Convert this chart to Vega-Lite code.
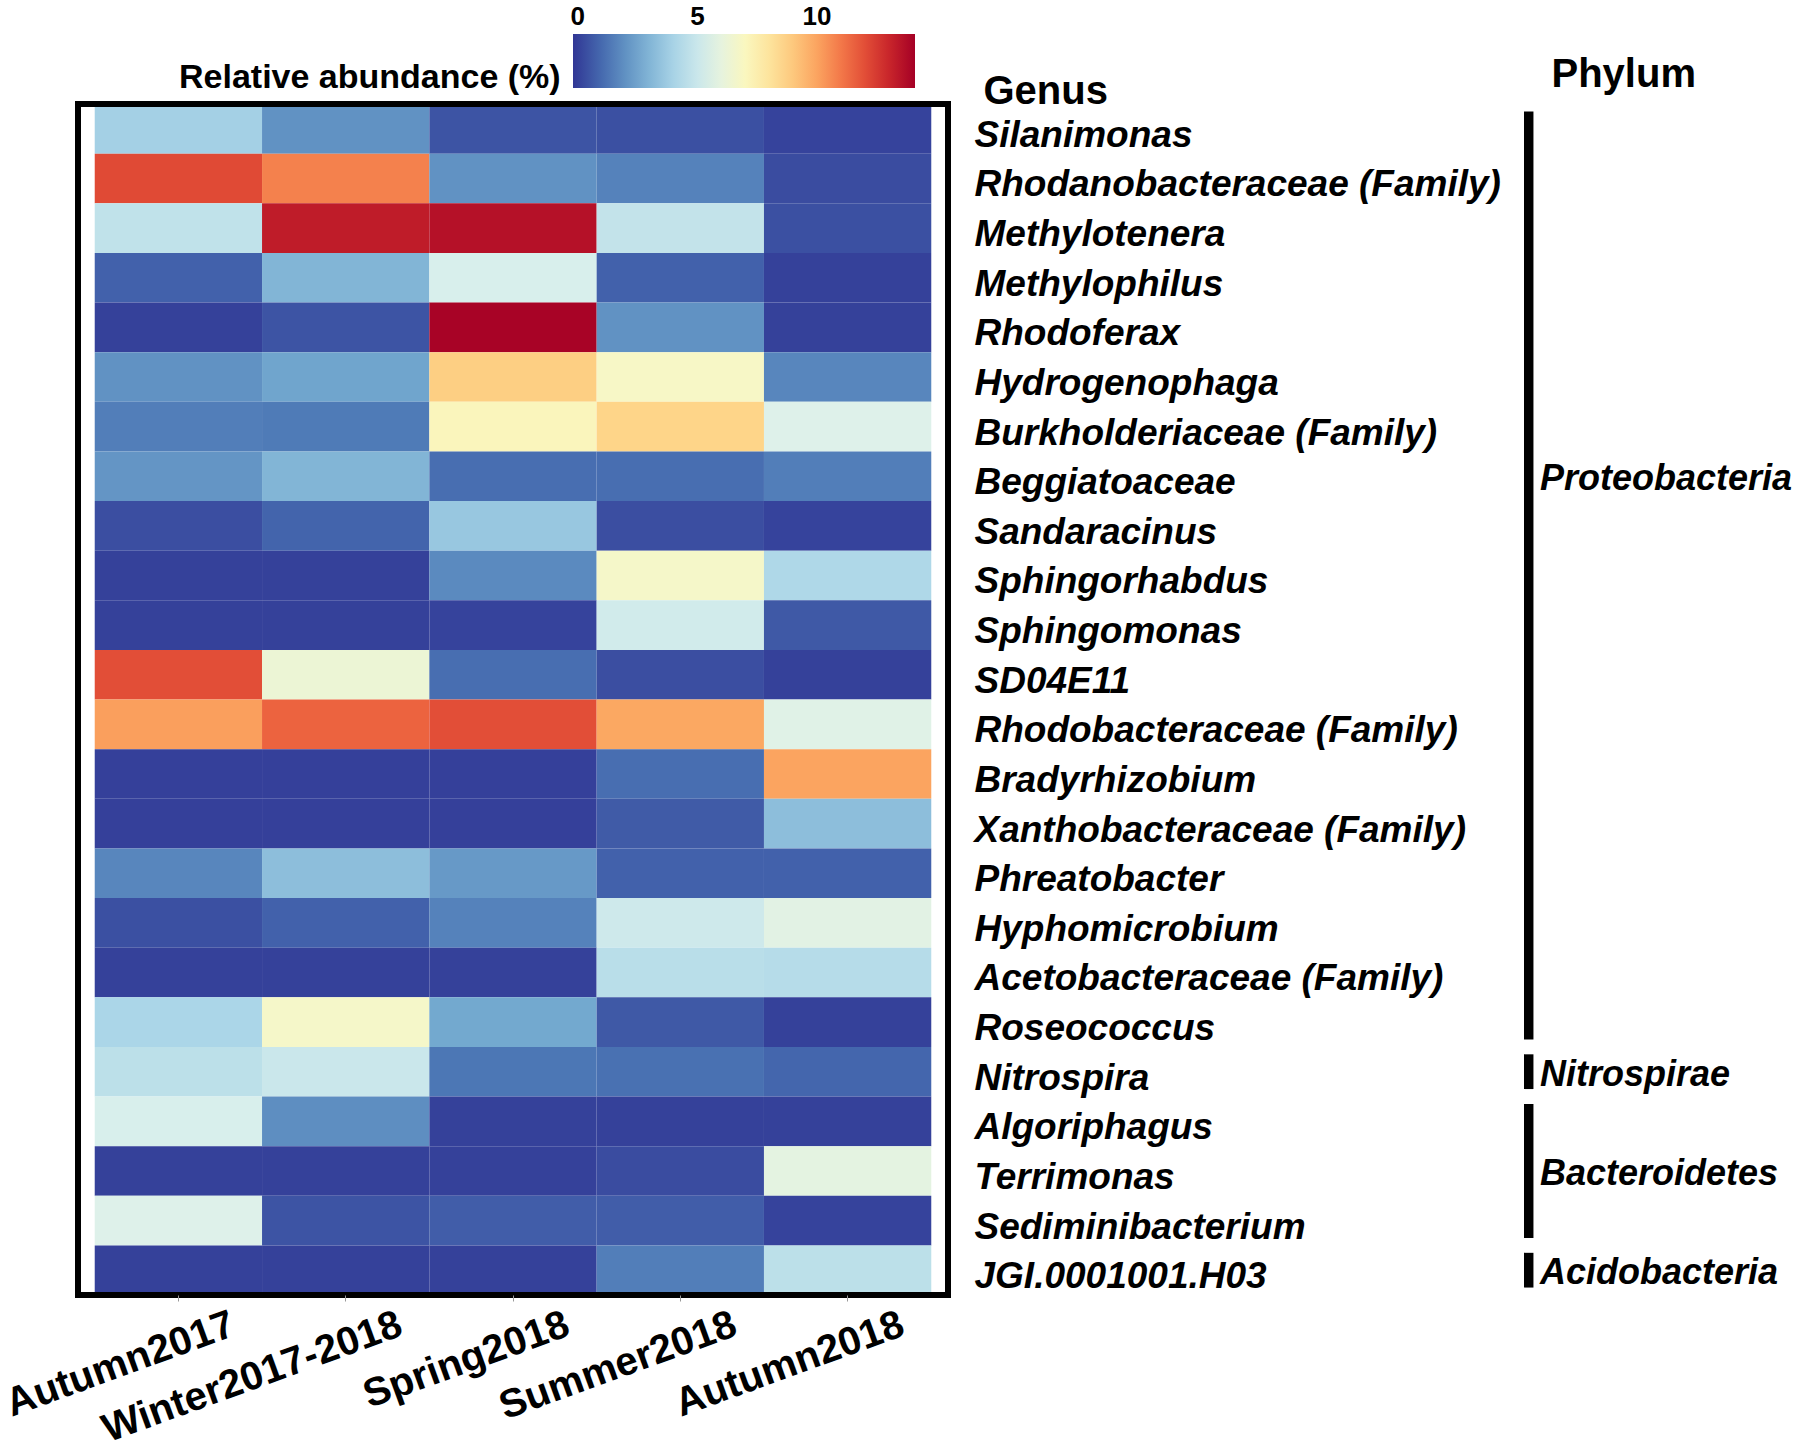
{
  "$schema": "https://vega.github.io/schema/vega-lite/v6.json",
  "padding": {"left": 0, "top": 34, "right": 0, "bottom": 0},
  "background": "white",
  "bounds": "flush",
  "spacing": 576,
  "config": {"font": "Liberation Sans", "view": {"stroke": null}},
  "datasets": {
    "cells": [
      {"genus": "Silanimonas", "season": "Autumn2017", "value": 3.9},
      {"genus": "Silanimonas", "season": "Winter2017-2018", "value": 2.0},
      {"genus": "Silanimonas", "season": "Spring2018", "value": 0.5},
      {"genus": "Silanimonas", "season": "Summer2018", "value": 0.4},
      {"genus": "Silanimonas", "season": "Autumn2018", "value": 0.1},
      {"genus": "Rhodanobacteraceae (Family)", "season": "Autumn2017", "value": 12.1},
      {"genus": "Rhodanobacteraceae (Family)", "season": "Winter2017-2018", "value": 10.8},
      {"genus": "Rhodanobacteraceae (Family)", "season": "Spring2018", "value": 2.0},
      {"genus": "Rhodanobacteraceae (Family)", "season": "Summer2018", "value": 1.6},
      {"genus": "Rhodanobacteraceae (Family)", "season": "Autumn2018", "value": 0.3},
      {"genus": "Methylotenera", "season": "Autumn2017", "value": 4.7},
      {"genus": "Methylotenera", "season": "Winter2017-2018", "value": 13.3},
      {"genus": "Methylotenera", "season": "Spring2018", "value": 13.6},
      {"genus": "Methylotenera", "season": "Summer2018", "value": 4.8},
      {"genus": "Methylotenera", "season": "Autumn2018", "value": 0.4},
      {"genus": "Methylophilus", "season": "Autumn2017", "value": 0.8},
      {"genus": "Methylophilus", "season": "Winter2017-2018", "value": 3.0},
      {"genus": "Methylophilus", "season": "Spring2018", "value": 5.4},
      {"genus": "Methylophilus", "season": "Summer2018", "value": 0.8},
      {"genus": "Methylophilus", "season": "Autumn2018", "value": 0.05},
      {"genus": "Rhodoferax", "season": "Autumn2017", "value": 0.05},
      {"genus": "Rhodoferax", "season": "Winter2017-2018", "value": 0.5},
      {"genus": "Rhodoferax", "season": "Spring2018", "value": 14.0},
      {"genus": "Rhodoferax", "season": "Summer2018", "value": 2.0},
      {"genus": "Rhodoferax", "season": "Autumn2018", "value": 0.05},
      {"genus": "Hydrogenophaga", "season": "Autumn2017", "value": 2.0},
      {"genus": "Hydrogenophaga", "season": "Winter2017-2018", "value": 2.5},
      {"genus": "Hydrogenophaga", "season": "Spring2018", "value": 8.8},
      {"genus": "Hydrogenophaga", "season": "Summer2018", "value": 6.8},
      {"genus": "Hydrogenophaga", "season": "Autumn2018", "value": 1.7},
      {"genus": "Burkholderiaceae (Family)", "season": "Autumn2017", "value": 1.5},
      {"genus": "Burkholderiaceae (Family)", "season": "Winter2017-2018", "value": 1.4},
      {"genus": "Burkholderiaceae (Family)", "season": "Spring2018", "value": 7.1},
      {"genus": "Burkholderiaceae (Family)", "season": "Summer2018", "value": 8.6},
      {"genus": "Burkholderiaceae (Family)", "season": "Autumn2018", "value": 5.6},
      {"genus": "Beggiatoaceae", "season": "Autumn2017", "value": 2.1},
      {"genus": "Beggiatoaceae", "season": "Winter2017-2018", "value": 3.0},
      {"genus": "Beggiatoaceae", "season": "Spring2018", "value": 1.1},
      {"genus": "Beggiatoaceae", "season": "Summer2018", "value": 1.1},
      {"genus": "Beggiatoaceae", "season": "Autumn2018", "value": 1.5},
      {"genus": "Sandaracinus", "season": "Autumn2017", "value": 0.35},
      {"genus": "Sandaracinus", "season": "Winter2017-2018", "value": 0.85},
      {"genus": "Sandaracinus", "season": "Spring2018", "value": 3.6},
      {"genus": "Sandaracinus", "season": "Summer2018", "value": 0.35},
      {"genus": "Sandaracinus", "season": "Autumn2018", "value": 0.1},
      {"genus": "Sphingorhabdus", "season": "Autumn2017", "value": 0.05},
      {"genus": "Sphingorhabdus", "season": "Winter2017-2018", "value": 0.05},
      {"genus": "Sphingorhabdus", "season": "Spring2018", "value": 1.8},
      {"genus": "Sphingorhabdus", "season": "Summer2018", "value": 6.7},
      {"genus": "Sphingorhabdus", "season": "Autumn2018", "value": 4.2},
      {"genus": "Sphingomonas", "season": "Autumn2017", "value": 0.05},
      {"genus": "Sphingomonas", "season": "Winter2017-2018", "value": 0.05},
      {"genus": "Sphingomonas", "season": "Spring2018", "value": 0.1},
      {"genus": "Sphingomonas", "season": "Summer2018", "value": 5.2},
      {"genus": "Sphingomonas", "season": "Autumn2018", "value": 0.6},
      {"genus": "SD04E11", "season": "Autumn2017", "value": 12.0},
      {"genus": "SD04E11", "season": "Winter2017-2018", "value": 6.3},
      {"genus": "SD04E11", "season": "Spring2018", "value": 1.1},
      {"genus": "SD04E11", "season": "Summer2018", "value": 0.35},
      {"genus": "SD04E11", "season": "Autumn2018", "value": 0.05},
      {"genus": "Rhodobacteraceae (Family)", "season": "Autumn2017", "value": 10.1},
      {"genus": "Rhodobacteraceae (Family)", "season": "Winter2017-2018", "value": 11.5},
      {"genus": "Rhodobacteraceae (Family)", "season": "Spring2018", "value": 12.0},
      {"genus": "Rhodobacteraceae (Family)", "season": "Summer2018", "value": 9.9},
      {"genus": "Rhodobacteraceae (Family)", "season": "Autumn2018", "value": 5.7},
      {"genus": "Bradyrhizobium", "season": "Autumn2017", "value": 0.02},
      {"genus": "Bradyrhizobium", "season": "Winter2017-2018", "value": 0.02},
      {"genus": "Bradyrhizobium", "season": "Spring2018", "value": 0.02},
      {"genus": "Bradyrhizobium", "season": "Summer2018", "value": 1.1},
      {"genus": "Bradyrhizobium", "season": "Autumn2018", "value": 10.0},
      {"genus": "Xanthobacteraceae (Family)", "season": "Autumn2017", "value": 0.02},
      {"genus": "Xanthobacteraceae (Family)", "season": "Winter2017-2018", "value": 0.02},
      {"genus": "Xanthobacteraceae (Family)", "season": "Spring2018", "value": 0.02},
      {"genus": "Xanthobacteraceae (Family)", "season": "Summer2018", "value": 0.65},
      {"genus": "Xanthobacteraceae (Family)", "season": "Autumn2018", "value": 3.3},
      {"genus": "Phreatobacter", "season": "Autumn2017", "value": 1.7},
      {"genus": "Phreatobacter", "season": "Winter2017-2018", "value": 3.3},
      {"genus": "Phreatobacter", "season": "Spring2018", "value": 2.2},
      {"genus": "Phreatobacter", "season": "Summer2018", "value": 0.8},
      {"genus": "Phreatobacter", "season": "Autumn2018", "value": 0.8},
      {"genus": "Hyphomicrobium", "season": "Autumn2017", "value": 0.4},
      {"genus": "Hyphomicrobium", "season": "Winter2017-2018", "value": 0.8},
      {"genus": "Hyphomicrobium", "season": "Spring2018", "value": 1.6},
      {"genus": "Hyphomicrobium", "season": "Summer2018", "value": 5.1},
      {"genus": "Hyphomicrobium", "season": "Autumn2018", "value": 5.8},
      {"genus": "Acetobacteraceae (Family)", "season": "Autumn2017", "value": 0.05},
      {"genus": "Acetobacteraceae (Family)", "season": "Winter2017-2018", "value": 0.05},
      {"genus": "Acetobacteraceae (Family)", "season": "Spring2018", "value": 0.05},
      {"genus": "Acetobacteraceae (Family)", "season": "Summer2018", "value": 4.5},
      {"genus": "Acetobacteraceae (Family)", "season": "Autumn2018", "value": 4.4},
      {"genus": "Roseococcus", "season": "Autumn2017", "value": 4.1},
      {"genus": "Roseococcus", "season": "Winter2017-2018", "value": 6.7},
      {"genus": "Roseococcus", "season": "Spring2018", "value": 2.6},
      {"genus": "Roseococcus", "season": "Summer2018", "value": 0.6},
      {"genus": "Roseococcus", "season": "Autumn2018", "value": 0.05},
      {"genus": "Nitrospira", "season": "Autumn2017", "value": 4.6},
      {"genus": "Nitrospira", "season": "Winter2017-2018", "value": 5.0},
      {"genus": "Nitrospira", "season": "Spring2018", "value": 1.3},
      {"genus": "Nitrospira", "season": "Summer2018", "value": 1.15},
      {"genus": "Nitrospira", "season": "Autumn2018", "value": 0.9},
      {"genus": "Algoriphagus", "season": "Autumn2017", "value": 5.4},
      {"genus": "Algoriphagus", "season": "Winter2017-2018", "value": 1.9},
      {"genus": "Algoriphagus", "season": "Spring2018", "value": 0.05},
      {"genus": "Algoriphagus", "season": "Summer2018", "value": 0.05},
      {"genus": "Algoriphagus", "season": "Autumn2018", "value": 0.05},
      {"genus": "Terrimonas", "season": "Autumn2017", "value": 0.05},
      {"genus": "Terrimonas", "season": "Winter2017-2018", "value": 0.05},
      {"genus": "Terrimonas", "season": "Spring2018", "value": 0.05},
      {"genus": "Terrimonas", "season": "Summer2018", "value": 0.3},
      {"genus": "Terrimonas", "season": "Autumn2018", "value": 5.9},
      {"genus": "Sediminibacterium", "season": "Autumn2017", "value": 5.6},
      {"genus": "Sediminibacterium", "season": "Winter2017-2018", "value": 0.5},
      {"genus": "Sediminibacterium", "season": "Spring2018", "value": 0.7},
      {"genus": "Sediminibacterium", "season": "Summer2018", "value": 0.7},
      {"genus": "Sediminibacterium", "season": "Autumn2018", "value": 0.1},
      {"genus": "JGI.0001001.H03", "season": "Autumn2017", "value": 0.05},
      {"genus": "JGI.0001001.H03", "season": "Winter2017-2018", "value": 0.05},
      {"genus": "JGI.0001001.H03", "season": "Spring2018", "value": 0.05},
      {"genus": "JGI.0001001.H03", "season": "Summer2018", "value": 1.5},
      {"genus": "JGI.0001001.H03", "season": "Autumn2018", "value": 4.6}
    ],
    "phyla": [
      {"phylum": "Proteobacteria", "first": "Silanimonas", "last": "Roseococcus", "labelAt": "Beggiatoaceae"},
      {"phylum": "Nitrospirae", "first": "Nitrospira", "last": "Nitrospira", "labelAt": "Nitrospira"},
      {"phylum": "Bacteroidetes", "first": "Algoriphagus", "last": "Sediminibacterium", "labelAt": "Terrimonas"},
      {"phylum": "Acidobacteria", "first": "JGI.0001001.H03", "last": "JGI.0001001.H03", "labelAt": "JGI.0001001.H03"}
    ],
    "frame": [{"frame": "plot"}]
  },
  "resolve": {"scale": {"y": "shared"}, "axis": {"y": "independent"}},
  "hconcat": [
    {
      "width": 870,
      "height": 1191,
      "layer": [
        {
          "data": {"name": "cells"},
          "mark": {"type": "rect"},
          "encoding": {
            "x": {
              "field": "season", "type": "nominal",
              "sort": ["Autumn2017", "Winter2017-2018", "Spring2018", "Summer2018", "Autumn2018"],
              "scale": {"paddingInner": 0, "paddingOuter": 0.1},
              "axis": {
                "title": null, "domain": false, "ticks": true, "tickColor": "#999999", "tickSize": 6, "tickWidth": 1,
                "labelAngle": -20, "labelAlign": "right", "labelBaseline": "top", "labelOffset": 48, "labelPadding": 3,
                "labelFontSize": 40, "labelFontWeight": "bold", "labelColor": "black", "labelLimit": 1000
              }
            },
            "y": {
              "field": "genus", "type": "nominal",
              "scale": {
                "domain": ["Silanimonas", "Rhodanobacteraceae (Family)", "Methylotenera", "Methylophilus", "Rhodoferax", "Hydrogenophaga", "Burkholderiaceae (Family)", "Beggiatoaceae", "Sandaracinus", "Sphingorhabdus", "Sphingomonas", "SD04E11", "Rhodobacteraceae (Family)", "Bradyrhizobium", "Xanthobacteraceae (Family)", "Phreatobacter", "Hyphomicrobium", "Acetobacteraceae (Family)", "Roseococcus", "Nitrospira", "Algoriphagus", "Terrimonas", "Sediminibacterium", "JGI.0001001.H03"],
                "paddingInner": 0, "paddingOuter": 0
              },
              "axis": {
                "orient": "right", "domain": false, "ticks": false, "labelPadding": 26, "labelOffset": 7,
                "labelFontSize": 37, "labelFontWeight": "bold", "labelFontStyle": "italic", "labelColor": "black",
                "labelAlign": "left", "labelLimit": 1000,
                "title": "Genus", "titleAngle": 0, "titleAlign": "left", "titleBaseline": "alphabetic",
                "titleX": 35, "titleY": -1, "titleFontSize": 40, "titleFontWeight": "bold", "titleColor": "black"
              }
            },
            "color": {
              "field": "value", "type": "quantitative",
              "scale": {"scheme": "redyellowblue", "reverse": true, "domain": [-0.2, 14.1]},
              "legend": {
                "title": "Relative abundance (%)", "orient": "none", "direction": "horizontal",
                "legendX": 101, "legendY": -70,
                "gradientLength": 342, "gradientThickness": 54, "gradientStrokeWidth": 0,
                "values": [0, 5, 10], "labelOffset": -84, "labelFontSize": 26, "labelFontWeight": "bold", "labelColor": "black",
                "titleOrient": "left", "titleFontSize": 34, "titleFontWeight": "bold", "titleColor": "black",
                "titlePadding": 12, "titleBaseline": "top", "titleLimit": 1000
              }
            }
          }
        },
        {
          "data": {"name": "frame"},
          "mark": {"type": "rect", "fillOpacity": 0, "stroke": "black", "strokeWidth": 6},
          "encoding": {}
        }
      ]
    },
    {
      "width": 270,
      "height": 1191,
      "data": {"name": "phyla"},
      "layer": [
        {
          "mark": {"type": "rect", "color": "black"},
          "encoding": {
            "x": {"datum": 0, "type": "quantitative", "scale": {"domain": [0, 10]}, "axis": null},
            "x2": {"datum": 0.35},
            "y": {"field": "first", "type": "nominal", "bandPosition": 0.15,
              "axis": {
                "orient": "left", "labels": false, "ticks": false, "domain": false, "grid": false,
                "title": "Phylum", "titleAngle": 0, "titleAlign": "left", "titleBaseline": "alphabetic",
                "titleX": 27, "titleY": -18, "titleFontSize": 40, "titleFontWeight": "bold", "titleColor": "black"
              },
              "scale": {"domain": ["Silanimonas", "Rhodanobacteraceae (Family)", "Methylotenera", "Methylophilus", "Rhodoferax", "Hydrogenophaga", "Burkholderiaceae (Family)", "Beggiatoaceae", "Sandaracinus", "Sphingorhabdus", "Sphingomonas", "SD04E11", "Rhodobacteraceae (Family)", "Bradyrhizobium", "Xanthobacteraceae (Family)", "Phreatobacter", "Hyphomicrobium", "Acetobacteraceae (Family)", "Roseococcus", "Nitrospira", "Algoriphagus", "Terrimonas", "Sediminibacterium", "JGI.0001001.H03"], "paddingInner": 0, "paddingOuter": 0}},
            "y2": {"field": "last", "bandPosition": 0.85}
          }
        },
        {
          "mark": {"type": "text", "align": "left", "baseline": "middle", "dx": 16, "dy": 3, "fontSize": 36, "fontWeight": "bold", "fontStyle": "italic", "color": "black"},
          "encoding": {
            "x": {"datum": 0, "type": "quantitative"},
            "y": {"field": "labelAt", "type": "nominal",
              "axis": {
                "orient": "left", "labels": false, "ticks": false, "domain": false, "grid": false,
                "title": "Phylum", "titleAngle": 0, "titleAlign": "left", "titleBaseline": "alphabetic",
                "titleX": 27, "titleY": -18, "titleFontSize": 40, "titleFontWeight": "bold", "titleColor": "black"
              }
            },
            "text": {"field": "phylum"}
          }
        }
      ]
    }
  ]
}
